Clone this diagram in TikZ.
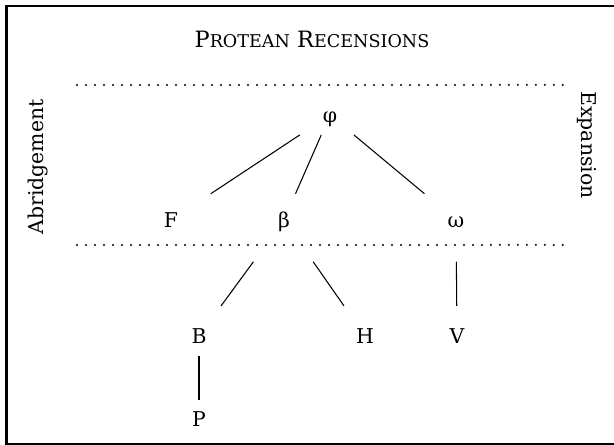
\documentclass[tikz,border=0pt]{standalone}
\usepackage{fontspec}
\setmainfont{DejaVu Serif}
\usepackage{tikz}
\usetikzlibrary{calc}
\newcommand\fakesc[2]{#1{\fontsize{12.5}{15}\selectfont #2}}
\tikzset{
  frame/.style={line width=1.8pt},
  divider/.style={line width=1.6pt, line cap=round, dash pattern=on 0pt off 6.4pt},
  branch/.style={line width=0.75pt},
  witness/.style={inner sep=1pt, text height=12pt, text depth=2pt},
  sidelabel/.style={inner sep=0pt}
}

\begin{document}
\begin{tikzpicture}[every node/.style={font=\fontsize{14.5}{18}\selectfont}]
  \useasboundingbox (0,0) rectangle (15.35,11.125);
  \draw[frame] (15.5,10.975) -| (0.165,0.03) -- (15.5,0.03);

  \node[anchor=base, font=\fontsize{16}{18}\selectfont] (title) at (7.8,9.925)
    {\fakesc{P}{ROTEAN} \fakesc{R}{ECENSIONS}};
  \draw[divider] (1.925,9.0) -- (14.125,9.0);
  \draw[divider] (1.925,5.0) -- (14.125,5.0);
  \node[sidelabel, rotate=90] (abr) at (0.95,6.95) {Abridgement};
  \node[sidelabel, rotate=-90] (exp) at (14.675,7.5) {Expansion};

  % witnesses
  \node[witness] (phi) at (8.25,8.25) {φ};
  \node[witness] (F) at (4.275,5.625) {F};
  \node[witness] (beta) at (7.1,5.625) {β};
  \node[witness] (omega) at (11.4,5.625) {ω};
  \node[witness] (B) at (4.975,2.725) {B};
  \node[witness] (H) at (9.125,2.725) {H};
  \node[witness] (V) at (11.425,2.725) {V};
  \node[witness] (P) at (4.975,0.65) {P};

  \draw[branch] ($(phi)!0.19!(F)$) -- ($(phi)!0.75!(F)$);
  \draw[branch] ($(phi)!0.19!(beta)$) -- ($(phi)!0.75!(beta)$);
  \draw[branch] ($(phi)!0.19!(omega)$) -- ($(phi)!0.75!(omega)$);
  \draw[branch] ($(beta)!0.36!(B)$) -- ($(beta)!0.74!(B)$);
  \draw[branch] ($(beta)!0.36!(H)$) -- ($(beta)!0.74!(H)$);
  \draw[branch] ($(omega)!0.36!(V)$) -- ($(omega)!0.74!(V)$);
  \draw[branch] ($(B)!0.24!(P)$) -- ($(B)!0.77!(P)$);
\end{tikzpicture}
\end{document}
